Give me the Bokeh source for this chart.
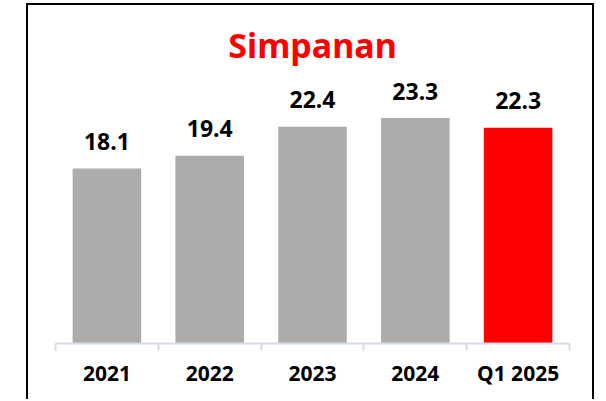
from bokeh.plotting import figure
from bokeh.models import Range1d, FixedTicker, ColumnDataSource, LinearAxis
from bokeh.core.properties import value
from bokeh.embed import file_html
from bokeh.resources import INLINE

categories = ["2021", "2022", "2023", "2024", "Q1 2025"]
values = [18.1, 19.4, 22.4, 23.3, 22.3]
colors = ["#AEABAB", "#AEABAB", "#AEABAB", "#AEABAB", "#FF0000"]
title_text = "Simpanan"

n = len(categories)
xs = list(range(1, n + 1))
labels = [f"{v:.1f}" for v in values]

src = ColumnDataSource(dict(x=xs, top=values, color=colors, label=labels))

p = figure(
    width=568, height=396,
    output_backend="svg", toolbar_location=None,
    x_range=Range1d(0.5, n + 0.5), y_range=Range1d(0, 27.7),
    min_border_left=27, min_border_right=27, min_border_bottom=58, min_border_top=70,
    x_axis_location=None, y_axis_location=None,
    styles={"border": "2px solid black", "border-bottom": "none",
            "margin-left": "26px", "margin-top": "3px"},
)
p.outline_line_color = None
p.xgrid.grid_line_color = None
p.ygrid.grid_line_color = None
p.background_fill_color = "white"
p.border_fill_color = "white"

p.title.text = title_text
p.title.align = "center"
p.title.text_color = "#FF0000"
p.title.text_font = "Noto Sans"
p.title.text_font_style = "bold"
p.title.text_font_size = "34px"
p.title.standoff = 16

p.vbar(x="x", top="top", width=0.667, bottom=0, color="color", line_color=None, source=src)

p.text(x="x", y="top", text="label", source=src,
       text_font=value("Noto Sans"), text_font_style="bold", text_font_size="23px",
       text_color="black", text_align="center", text_baseline="alphabetic", y_offset=-27)

ax = LinearAxis()
ax.ticker = FixedTicker(ticks=xs, minor_ticks=[i + 0.5 for i in range(0, n + 1)])
ax.major_label_overrides = {x: c for x, c in zip(xs, categories)}
ax.axis_line_color = "#D6DCE5"
ax.axis_line_width = 2
ax.major_tick_line_color = None
ax.major_tick_out = 0
ax.major_tick_in = 0
ax.minor_tick_line_color = "#D6DCE5"
ax.minor_tick_line_width = 2
ax.minor_tick_out = 7
ax.minor_tick_in = 0
ax.major_label_standoff = 8
ax.major_label_text_font = "Noto Sans"
ax.major_label_text_font_style = "bold"
ax.major_label_text_font_size = "21px"
ax.major_label_text_color = "black"
p.add_layout(ax, "below")

open("out.html", "w").write(file_html(p, INLINE))
